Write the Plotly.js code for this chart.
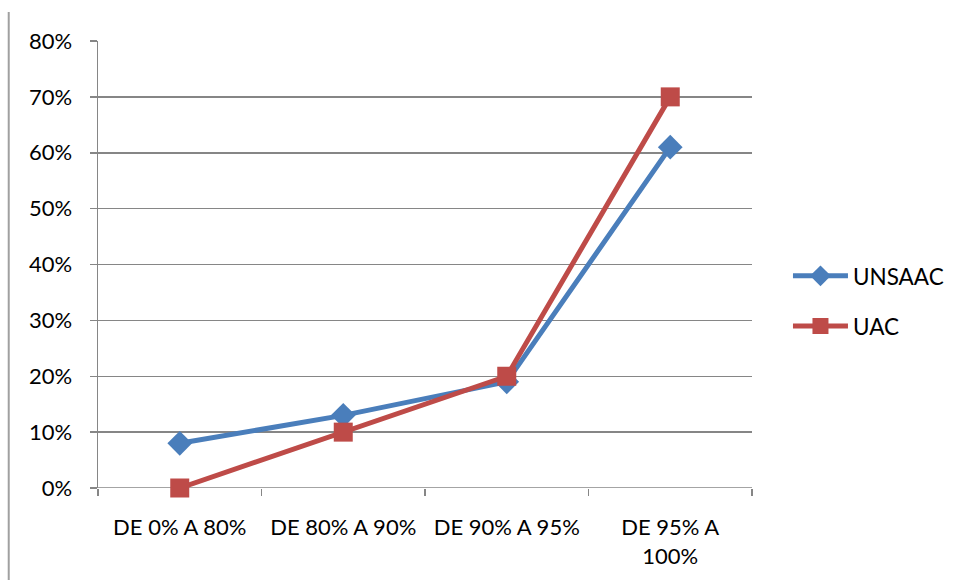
<!DOCTYPE html>
<html><head><meta charset="utf-8">
<script src="https://cdn.plot.ly/plotly-3.0.1.min.js"></script>
<style>html,body{margin:0;padding:0;background:#fff}#chart{width:956px;height:580px}</style>
</head><body><div id="chart"></div>
<script>
const categories = ["DE 0% A 80%", "DE 80% A 90%", "DE 90% A 95%", "DE 95% A 100%"];
const tickLabels = ["DE 0% A 80%", "DE 80% A 90%", "DE 90% A 95%", "DE 95% A<br>100%"];
const unsaac = [0.08, 0.13, 0.19, 0.61];
const uac = [0.00, 0.10, 0.20, 0.70];
const yTicks = [0, 0.1, 0.2, 0.3, 0.4, 0.5, 0.6, 0.7, 0.8];

const fam = "Lato, 'Open Sans', sans-serif";
const traces = [
  {x: categories, y: unsaac, name: "UNSAAC", legendgroup: "a", type: "scatter", mode: "lines+markers", cliponaxis: false,
   line: {color: "#4A7EBB", width: 5}, marker: {symbol: "diamond", size: 19, color: "#4A7EBB"}},
  {x: categories, y: uac, name: "UAC", legendgroup: "b", type: "scatter", mode: "lines+markers", cliponaxis: false,
   line: {color: "#BE4B48", width: 5}, marker: {symbol: "square", size: 19, color: "#BE4B48"}}
];
const layout = {
  width: 956, height: 580,
  margin: {l: 98, r: 204, t: 41, b: 92, autoexpand: false},
  paper_bgcolor: "#fff", plot_bgcolor: "#fff",
  font: {family: fam, size: 22, color: "#000"},
  showlegend: true,
  legend: {x: 1.055, y: 0.418, xanchor: "left", yanchor: "middle", font: {family: fam, size: 22.5, color: "#000"},
           itemwidth: 55, tracegroupgap: 18, bgcolor: "rgba(0,0,0,0)"},
  xaxis: {type: "category", tickvals: categories, ticktext: tickLabels, tickson: "boundaries",
          ticks: "outside", ticklen: 7, tickcolor: "#868686", tickwidth: 1.5,
          showgrid: false, showline: false, zeroline: false, range: [-0.5, 3.5], fixedrange: true,
          ticklabelstandoff: 24, automargin: false,
          tickfont: {family: fam, size: 22, color: "#000"}},
  yaxis: {range: [0, 0.8], tickvals: yTicks, tickformat: ".0%", showgrid: true, gridcolor: "#868686", gridwidth: 1.5,
          showline: true, linecolor: "#868686", linewidth: 1.5, ticks: "outside", ticklen: 7, tickcolor: "#868686", tickwidth: 1.5,
          zeroline: false, ticklabelstandoff: 13, automargin: false, tickfont: {family: fam, size: 22, color: "#000"}},
  shapes: [
    {type: "line", xref: "paper", yref: "paper", x0: -0.1365, x1: -0.1365, y0: 1.065, y1: -0.21,
     line: {color: "#A0A0A0", width: 2}},
    {type: "line", xref: "paper", yref: "y", x0: 0, x1: 1, y0: 0, y1: 0, line: {color: "#868686", width: 1.5}, layer: "below"}
  ]
};
Plotly.newPlot("chart", traces, layout, {displayModeBar: false, staticPlot: true});
</script></body></html>
